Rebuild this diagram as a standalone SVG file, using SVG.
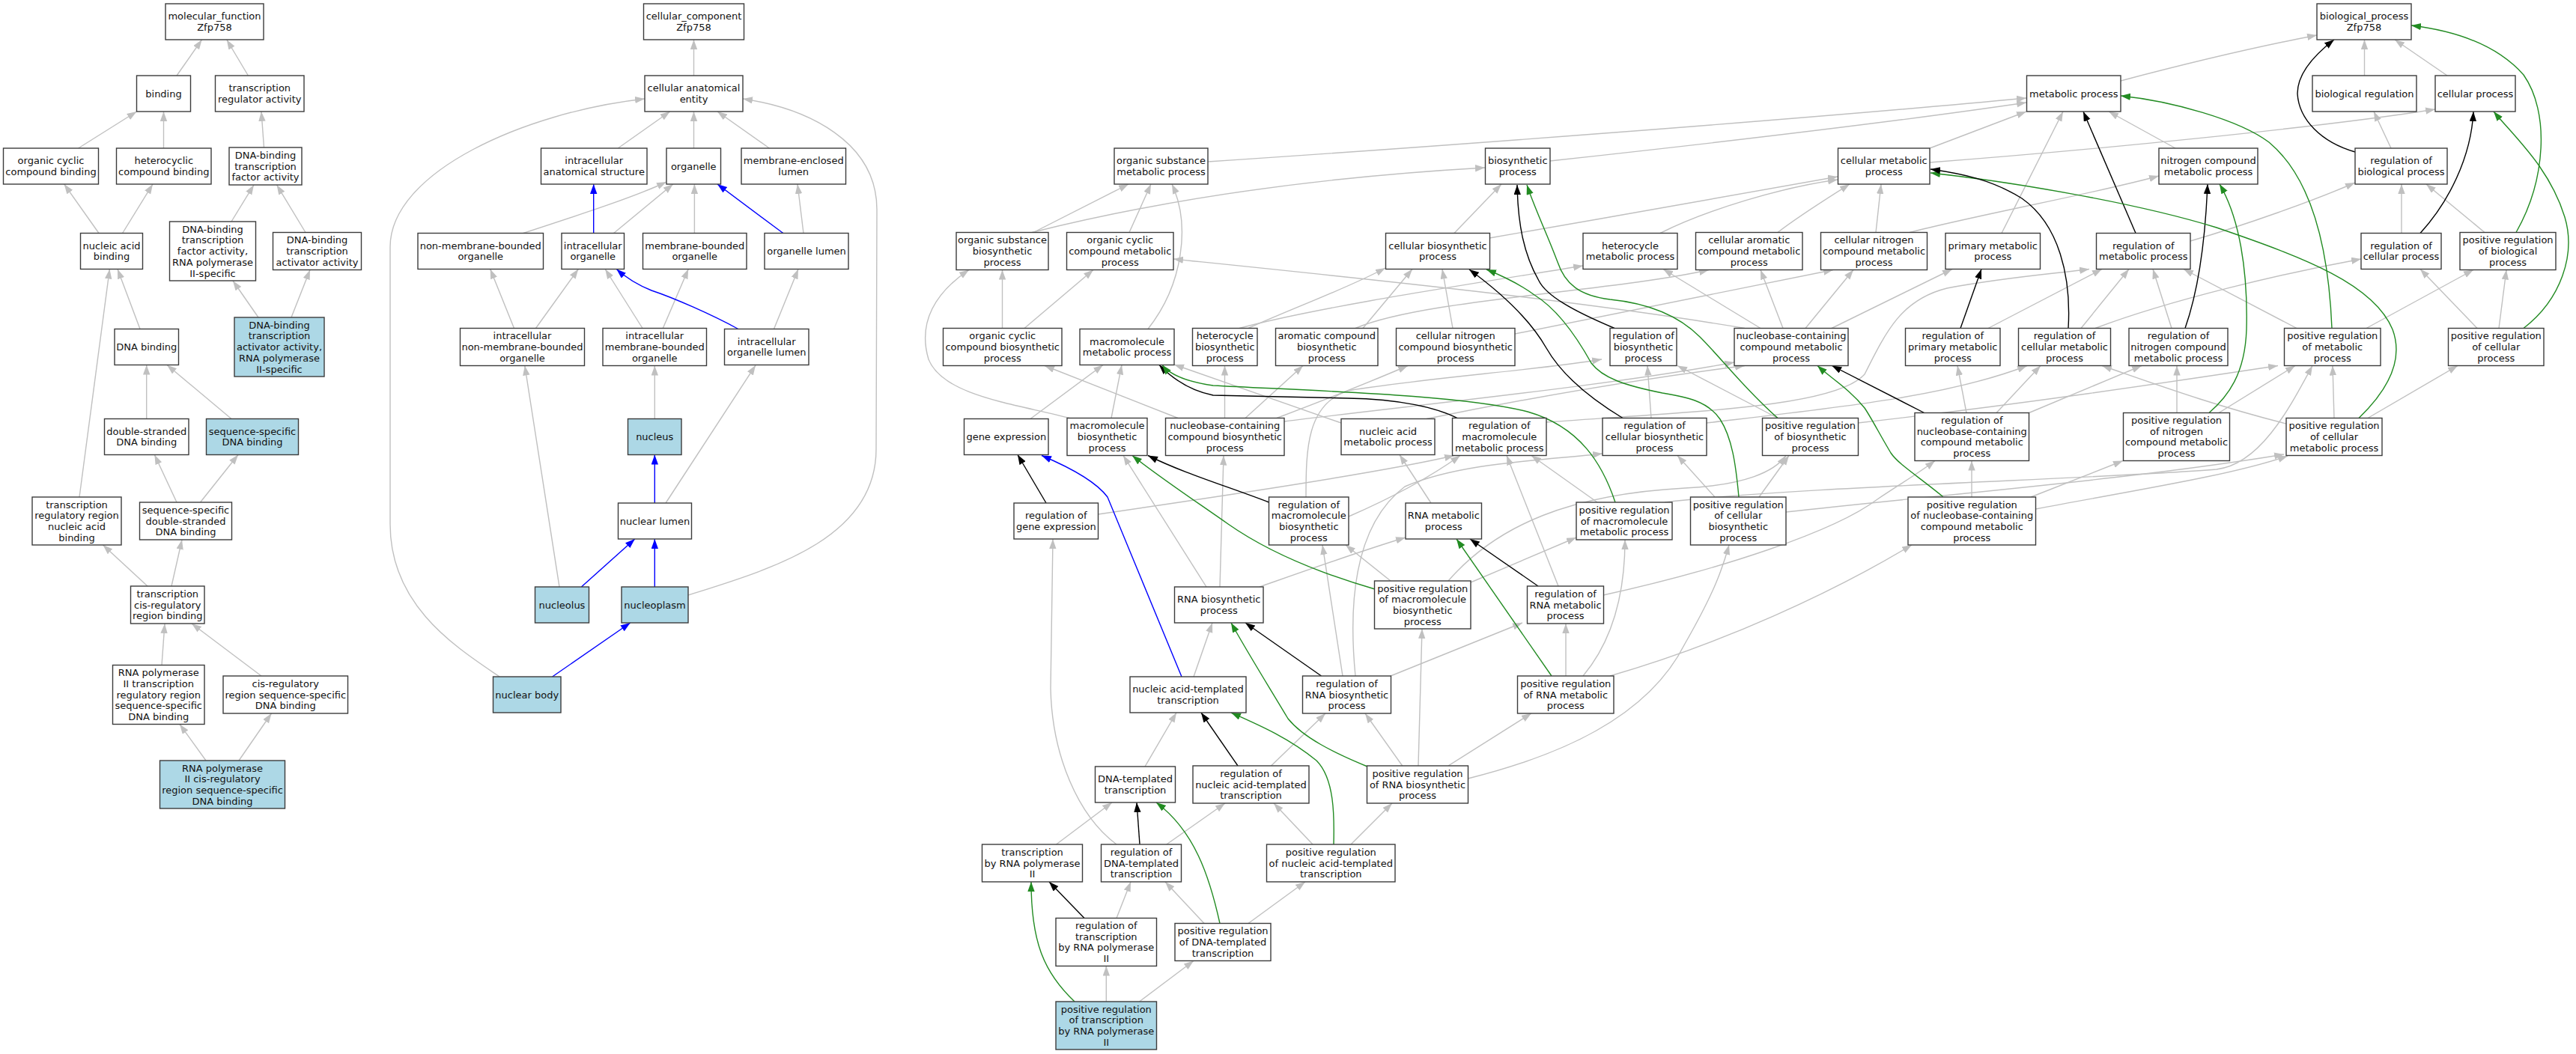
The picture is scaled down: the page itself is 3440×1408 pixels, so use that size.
<svg xmlns="http://www.w3.org/2000/svg" width="3440" height="1408" viewBox="0 0 3440 1408">
<style>
.n rect{fill:#fff;stroke:#3c3c3c;stroke-width:1.4}
.h rect{fill:#add8e6}
.n text{font-family:"DejaVu Sans",Verdana,sans-serif;font-size:13px;text-anchor:middle;fill:#111}
#edges path{fill:none;stroke-width:1.4}
.g{stroke:#c0c0c0;marker-end:url(#ag)}
.k{stroke:#000;marker-end:url(#ak)}
.b{stroke:#0000ff;marker-end:url(#ab)}
.e{stroke:#228b22;marker-end:url(#ae)}
</style>
<defs>
<marker id="ag" markerUnits="userSpaceOnUse" markerWidth="14" markerHeight="10" refX="13" refY="4.7" orient="auto"><path d="M0,0 L13,4.7 L0,9.4 z" fill="#c0c0c0"/></marker>
<marker id="ak" markerUnits="userSpaceOnUse" markerWidth="14" markerHeight="10" refX="13" refY="4.7" orient="auto"><path d="M0,0 L13,4.7 L0,9.4 z" fill="#000"/></marker>
<marker id="ab" markerUnits="userSpaceOnUse" markerWidth="14" markerHeight="10" refX="13" refY="4.7" orient="auto"><path d="M0,0 L13,4.7 L0,9.4 z" fill="#0000ff"/></marker>
<marker id="ae" markerUnits="userSpaceOnUse" markerWidth="14" markerHeight="10" refX="13" refY="4.7" orient="auto"><path d="M0,0 L13,4.7 L0,9.4 z" fill="#228b22"/></marker>
</defs>
<rect width="3440" height="1408" fill="#fff"/>
<g id="edges">
<!-- MF -->
<path class="g" d="M236,101 L269.6,53"/>
<path class="g" d="M331.4,101 L302.8,53"/>
<path class="g" d="M104.6,198 L182.5,149"/>
<path class="g" d="M218.5,198 L218.5,149"/>
<path class="g" d="M352.5,197 L349,149"/>
<path class="g" d="M132,311.5 L85.7,246"/>
<path class="g" d="M163.6,311.5 L204,246"/>
<path class="g" d="M309,296 L339,247"/>
<path class="g" d="M408,310.5 L369.6,247"/>
<path class="g" d="M187,439.5 L157,359.5"/>
<path class="g" d="M345,424 L311,375"/>
<path class="g" d="M389,424 L414,360.5"/>
<path class="g" d="M195.7,559.5 L195.7,487.5"/>
<path class="g" d="M309,559.5 L223,487.5"/>
<path class="g" d="M106,664 L146.4,359.5"/>
<path class="g" d="M236,671 L206.4,607.5"/>
<path class="g" d="M267.5,671 L318,607.5"/>
<path class="g" d="M197,783 L137.5,728"/>
<path class="g" d="M229,783 L243,721"/>
<path class="g" d="M216,888.5 L220,833"/>
<path class="g" d="M349,903 L256,833"/>
<path class="g" d="M275,1016 L240,967.5"/>
<path class="g" d="M319,1016 L362.5,953"/>
<!-- CC -->
<path class="g" d="M926.5,101 L926.5,53"/>
<path class="g" d="M825.3,198 L894.7,149"/>
<path class="g" d="M926.5,198 L926.5,149"/>
<path class="g" d="M1027.4,198 L958,149"/>
<path class="g" d="M698.8,311.5 C780,285 850,262 890,243"/>
<path class="b" d="M792.7,311.5 L792.7,246"/>
<path class="g" d="M819.6,311.5 L898.8,246"/>
<path class="g" d="M927.4,311.5 L927.4,246"/>
<path class="b" d="M1045.8,311.5 L958,246"/>
<path class="g" d="M1073,311.5 L1065,246"/>
<path class="g" d="M686.5,438.5 L654.7,359.5"/>
<path class="g" d="M715.5,438.5 L772.3,359.5"/>
<path class="g" d="M858,438.5 L808.2,359.5"/>
<path class="g" d="M885.3,438.5 L919.2,359.5"/>
<path class="b" d="M985.8,439.5 C950,420 900,398 870,388 C850,380 835,370 823.3,359.5"/>
<path class="g" d="M1033.5,439.5 L1066,359.5"/>
<path class="g" d="M874.3,559.5 L874.3,488.5"/>
<path class="b" d="M874.3,672 L874.3,607.5"/>
<path class="g" d="M889,672 L1009,488"/>
<path class="b" d="M776.4,784 L847.8,720"/>
<path class="b" d="M874.3,784 L874.3,720"/>
<path class="g" d="M747,784 L700.8,488.5"/>
<path class="b" d="M737.6,904 L841.7,832"/>
<path class="g" d="M667,904 C610,865 521,810 521,700 L521,330 C521,230 700,150 861,132"/>
<path class="g" d="M919,795 C1030,760 1170,720 1170,600 L1171,280 C1171,190 1080,145 992,132"/>
<!-- BP grey -->
<path class="g" d="M2832,108 C2900,90 3000,65 3094,47"/>
<path class="g" d="M3157.5,101 L3157.5,53"/>
<path class="g" d="M3268,101 L3198,53"/>
<path class="g" d="M1613,216 C1900,197 2400,160 2706,131"/>
<path class="g" d="M2070,215 C2300,190 2550,160 2706,137"/>
<path class="g" d="M2577,198 L2706,149"/>
<path class="g" d="M2905,198 L2816,149"/>
<path class="g" d="M2673,311.5 L2755,149"/>
<path class="g" d="M2577,217 C2800,200 3100,170 3252,146"/>
<path class="g" d="M3193,198 L3170,149"/>
<path class="g" d="M2925,322 C3000,300 3090,268 3145,244"/>
<path class="g" d="M3207,311.5 L3207,246"/>
<path class="g" d="M3318,310.5 L3240,246"/>
<path class="g" d="M1380,310.5 L1507,246"/>
<path class="g" d="M1378,310.5 C1500,280 1700,240 1983,224"/>
<path class="g" d="M1508,310.5 L1537,246"/>
<path class="g" d="M1942,311.5 L2005,246"/>
<path class="g" d="M1989,318 C2150,290 2350,255 2454,236"/>
<path class="g" d="M2217,311.5 C2280,280 2380,250 2454,240"/>
<path class="g" d="M2374,310.5 C2400,290 2440,265 2470,246"/>
<path class="g" d="M2505,310.5 L2512,246"/>
<path class="g" d="M2550,310.5 C2650,285 2800,258 2883,235"/>
<path class="g" d="M3308,438.5 L3232,359.5"/>
<path class="g" d="M3337,438.5 L3347,360.5"/>
<path class="g" d="M3067,438.5 L2916,359.5"/>
<path class="g" d="M3160,438.5 L3303,360.5"/>
<path class="g" d="M2655,438.5 L2807,359.5"/>
<path class="g" d="M2779,438.5 L2843,359.5"/>
<path class="g" d="M2798,438.5 C2900,400 3050,365 3153,346"/>
<path class="g" d="M2900,438.5 L2875,359.5"/>
<path class="g" d="M2330,438.5 C2100,400 1800,370 1567,346"/>
<path class="g" d="M2351,438.5 L2221,359.5"/>
<path class="g" d="M2381,438.5 L2351,360.5"/>
<path class="g" d="M2411,438.5 L2475,360.5"/>
<path class="g" d="M2446,438.5 L2607,359.5"/>
<path class="g" d="M1338.5,438.5 L1338.5,360.5"/>
<path class="g" d="M1368,438.5 L1460,360.5"/>
<path class="g" d="M1533,439.5 C1580,380 1590,300 1565,246"/>
<path class="g" d="M1667,438.5 C1730,410 1800,385 1850,358"/>
<path class="g" d="M1655,438.5 C1760,410 1960,380 2114,355"/>
<path class="g" d="M1820,438.5 L1886,359.5"/>
<path class="g" d="M1810,438.5 C1900,400 2150,390 2282,360.5"/>
<path class="g" d="M1940,438.5 L1926,359.5"/>
<path class="g" d="M2023,446 C2200,410 2350,380 2448,360.5"/>
<path class="g" d="M1376,559.5 L1473,487.5"/>
<path class="g" d="M1484,558.5 L1498,487.5"/>
<path class="g" d="M1430,559 C1360,540 1260,530 1240,480 C1225,430 1250,390 1294,360.5"/>
<path class="g" d="M1573,558.5 L1395,488.5"/>
<path class="g" d="M1635.5,558.5 L1635.5,488.5"/>
<path class="g" d="M1663,558.5 L1740,488.5"/>
<path class="g" d="M1705,558.5 C1780,530 1830,510 1880,488.5"/>
<path class="g" d="M1715,563 C1900,540 2150,515 2316,484"/>
<path class="g" d="M1791,565 L1568,487"/>
<path class="g" d="M1905,559.5 C2050,530 2200,505 2330,488.5"/>
<path class="g" d="M2065,564 C2250,550 2450,545 2490,500 C2520,440 2540,400 2600,385 C2680,370 2750,365 2790,359.5"/>
<path class="g" d="M2205,558.5 L2200,488.5"/>
<path class="g" d="M2279,565 C2450,545 2600,530 2707,488.5"/>
<path class="g" d="M2374,558.5 L2240,488.5"/>
<path class="g" d="M2481,565 C2700,540 2900,510 3042,488.5"/>
<path class="g" d="M2626,551.5 L2614,488.5"/>
<path class="g" d="M2666,551.5 L2725,488.5"/>
<path class="g" d="M2709.5,551.5 L2860,488.5"/>
<path class="g" d="M2907,551.5 L2907,488.5"/>
<path class="g" d="M2963,551.5 L3065,488.5"/>
<path class="g" d="M3117,558.5 L3115,488.5"/>
<path class="g" d="M3053,566 C2950,540 2870,510 2807,488.5"/>
<path class="g" d="M3162,558.5 L3282,488.5"/>
<path class="g" d="M1466.5,687 C1650,660 1850,630 1942,608.5"/>
<path class="g" d="M1744,664 C1744,600 1745,540 1800,522 C1900,505 2050,495 2139,480"/>
<path class="g" d="M1801,690 C1870,660 1920,630 1950,608.5"/>
<path class="g" d="M1911,672 L1869,607.5"/>
<path class="g" d="M2133,671 L2045,608.5"/>
<path class="g" d="M2223,671 C2400,650 2800,640 2960,627 C3020,620 3060,540 3088,488.5"/>
<path class="g" d="M2290,664 L2240,608.5"/>
<path class="g" d="M2349,664 L2389,608.5"/>
<path class="g" d="M2385,684 C2600,660 2850,640 3050,607"/>
<path class="g" d="M2633,664 L2633,615.5"/>
<path class="g" d="M2712,664 L2835,615.5"/>
<path class="g" d="M2718.5,680 C2850,655 2980,635 3055,609"/>
<path class="g" d="M1611,784 L1500,608.5"/>
<path class="g" d="M1629,784 L1634,608.5"/>
<path class="g" d="M1682,784 C1750,760 1820,735 1877,718"/>
<path class="g" d="M1857,776 L1797,728"/>
<path class="g" d="M1964,778 L2105,718"/>
<path class="g" d="M1934,776 C2000,700 2100,660 2250,652 C2330,648 2370,630 2385,608.5"/>
<path class="g" d="M2081,783 L2012,608.5"/>
<path class="g" d="M2141,795 C2300,760 2450,710 2507,667 C2540,645 2565,630 2584,615.5"/>
<path class="g" d="M1594,904 L1619,832"/>
<path class="g" d="M1793,903 L1766,728"/>
<path class="g" d="M1810,903 C1800,800 1810,700 1876,650 C1950,618 2060,615 2140,606"/>
<path class="g" d="M1857,903 L2033,832"/>
<path class="g" d="M2091,903 L2091,833"/>
<path class="g" d="M2114,903 C2150,860 2170,800 2170,721"/>
<path class="g" d="M2150,903 C2300,860 2450,790 2553,728"/>
<path class="g" d="M1529,1024 L1571,952"/>
<path class="g" d="M1697.5,1023 L1770,953"/>
<path class="g" d="M1872.7,1023 L1823,953"/>
<path class="g" d="M1934,1023 L2045,953"/>
<path class="g" d="M1894,1023 L1899,840"/>
<path class="g" d="M1960.5,1040 C2080,1010 2200,960 2250,860 C2290,790 2300,760 2309,728"/>
<path class="g" d="M1410.5,1128 L1485,1072"/>
<path class="g" d="M1557.8,1128 L1636,1073"/>
<path class="g" d="M1491,1128 C1440,1090 1405,1010 1403,920 L1406,720"/>
<path class="g" d="M1753,1128 L1701,1073"/>
<path class="g" d="M1804,1128 L1859,1073"/>
<path class="g" d="M1491,1226.5 L1510,1178"/>
<path class="g" d="M1608,1233.5 L1556,1178"/>
<path class="g" d="M1667,1233.5 L1743,1178"/>
<path class="g" d="M1477.3,1338 L1477.3,1290.5"/>
<path class="g" d="M1521.5,1338 L1594,1283.5"/>
<!-- BP coloured -->
<path class="k" d="M2852,311.5 L2782,149"/>
<path class="k" d="M3232,311.5 C3270,270 3300,210 3303,149"/>
<path class="e" d="M3360,310.5 C3400,240 3405,150 3370,100 C3330,55 3270,40 3220,34"/>
<path class="k" d="M3145,203 C3100,190 3070,160 3068,125 C3068,95 3095,70 3117,53"/>
<path class="e" d="M3370,438.5 C3420,400 3440,340 3425,290 C3405,225 3360,185 3330,149"/>
<path class="e" d="M3114,438.5 C3110,340 3090,240 3030,190 C2990,160 2900,135 2832,128"/>
<path class="k" d="M2918,438.5 C2935,390 2945,320 2948,246"/>
<path class="e" d="M2950,551.5 C2975,530 2998,500 3000,440 C3002,360 2990,290 2964,246"/>
<path class="e" d="M3150,558.5 C3190,520 3210,480 3195,440 C3170,380 3080,345 2960,304 C2850,270 2680,242 2578,231"/>
<path class="k" d="M2762,438.5 C2766,370 2750,300 2700,265 C2660,240 2620,232 2578,226"/>
<path class="k" d="M2618,438.5 L2646,359.5"/>
<path class="k" d="M1397,672 L1359,607.5"/>
<path class="k" d="M1947,559 C1920,545 1870,533 1800,532 L1620,528 C1590,522 1565,505 1548,487.5"/>
<path class="e" d="M2157,671 C2140,620 2110,570 2040,550 C1950,527 1750,522 1620,515 C1585,510 1562,500 1552,487.5"/>
<path class="k" d="M1694.5,671 C1640,650 1580,632 1533,608.5"/>
<path class="e" d="M1836,787 C1760,765 1690,735 1640,700 C1590,665 1545,635 1512,608.5"/>
<path class="b" d="M1578,904 L1479,664 C1465,645 1430,625 1391,608.5"/>
<path class="k" d="M1764.5,903 L1663,832"/>
<path class="e" d="M1826,1024 C1780,1005 1740,985 1720,960 C1690,910 1665,870 1644,832"/>
<path class="k" d="M1653,1023 L1604,952"/>
<path class="e" d="M1781,1128 C1782,1090 1782,1040 1758,1016 C1720,985 1680,968 1644,952"/>
<path class="k" d="M1522,1128 L1518,1072"/>
<path class="e" d="M1629,1233.5 C1615,1170 1595,1110 1544,1072"/>
<path class="k" d="M1448,1226.5 L1401,1178"/>
<path class="e" d="M1435,1338 C1395,1300 1377,1260 1377,1178"/>
<path class="k" d="M2054,783 L1963,720"/>
<path class="e" d="M2072,903 L1945,720"/>
<path class="k" d="M2156,438.5 C2100,415 2065,395 2055,375 C2035,340 2027,300 2026,247"/>
<path class="e" d="M2374,558.5 C2330,520 2300,480 2270,450 C2240,420 2200,405 2150,400 C2110,395 2090,380 2080,350 C2065,310 2050,280 2039,247"/>
<path class="k" d="M2167,558.5 C2120,530 2085,500 2065,465 C2045,430 2010,395 1962,360"/>
<path class="e" d="M2322,664 C2318,620 2313,585 2297,560 C2280,535 2250,530 2220,525 C2170,515 2140,505 2125,485 C2100,440 2075,410 2049,394 C2030,380 2005,368 1985,360"/>
<path class="k" d="M2569.6,551.5 L2446.4,488.5"/>
<path class="e" d="M2594.6,663.5 C2560,635 2535,620 2525,605 C2510,580 2500,560 2490,545 C2470,520 2445,505 2427,488.5"/>
</g>
<g id="nodes">
<!-- MF -->
<g id="mf_root" class="n"><rect x="221" y="5" width="131" height="48"/><text x="286.5" y="26.25">molecular_function<tspan x="286.5" dy="14.7">Zfp758</tspan></text></g>
<g id="binding" class="n"><rect x="182.5" y="101" width="72" height="48"/><text x="218.5" y="129.6">binding</text></g>
<g id="tra" class="n"><rect x="287.5" y="101" width="118.5" height="48"/><text x="346.75" y="122.25">transcription<tspan x="346.75" dy="14.7">regulator activity</tspan></text></g>
<g id="occb" class="n"><rect x="4.5" y="198" width="127" height="48"/><text x="68" y="219.25">organic cyclic<tspan x="68" dy="14.7">compound binding</tspan></text></g>
<g id="hcb" class="n"><rect x="155.5" y="198" width="126.5" height="48"/><text x="218.75" y="219.25">heterocyclic<tspan x="218.75" dy="14.7">compound binding</tspan></text></g>
<g id="dbtfa" class="n"><rect x="306" y="197" width="97" height="50"/><text x="354.5" y="211.9">DNA-binding<tspan x="354.5" dy="14.7">transcription</tspan><tspan x="354.5" dy="14.7">factor activity</tspan></text></g>
<g id="nab" class="n"><rect x="107.5" y="311.5" width="83" height="48"/><text x="149" y="332.75">nucleic acid<tspan x="149" dy="14.7">binding</tspan></text></g>
<g id="dbtfa2" class="n"><rect x="226.5" y="296" width="115" height="79"/><text x="284" y="310.7">DNA-binding<tspan x="284" dy="14.7">transcription</tspan><tspan x="284" dy="14.7">factor activity,</tspan><tspan x="284" dy="14.7">RNA polymerase</tspan><tspan x="284" dy="14.7">II-specific</tspan></text></g>
<g id="dbtaa" class="n"><rect x="364.5" y="310.5" width="118" height="50"/><text x="423.5" y="325.4">DNA-binding<tspan x="423.5" dy="14.7">transcription</tspan><tspan x="423.5" dy="14.7">activator activity</tspan></text></g>
<g id="dnab" class="n"><rect x="153" y="439.5" width="85.5" height="48"/><text x="195.75" y="468.1">DNA binding</text></g>
<g id="dbtaa2" class="n h"><rect x="313" y="424" width="120" height="79"/><text x="373" y="438.7">DNA-binding<tspan x="373" dy="14.7">transcription</tspan><tspan x="373" dy="14.7">activator activity,</tspan><tspan x="373" dy="14.7">RNA polymerase</tspan><tspan x="373" dy="14.7">II-specific</tspan></text></g>
<g id="dsdb" class="n"><rect x="139.5" y="559.5" width="112.5" height="48"/><text x="195.75" y="580.75">double-stranded<tspan x="195.75" dy="14.7">DNA binding</tspan></text></g>
<g id="ssdb" class="n h"><rect x="275.5" y="559.5" width="123" height="48"/><text x="337" y="580.75">sequence-specific<tspan x="337" dy="14.7">DNA binding</tspan></text></g>
<g id="trrnab" class="n"><rect x="43" y="664" width="119" height="64"/><text x="102.5" y="678.55">transcription<tspan x="102.5" dy="14.7">regulatory region</tspan><tspan x="102.5" dy="14.7">nucleic acid</tspan><tspan x="102.5" dy="14.7">binding</tspan></text></g>
<g id="ssdsdb" class="n"><rect x="186.5" y="671" width="123" height="50"/><text x="248" y="685.9">sequence-specific<tspan x="248" dy="14.7">double-stranded</tspan><tspan x="248" dy="14.7">DNA binding</tspan></text></g>
<g id="tcrrb" class="n"><rect x="174.5" y="783" width="98.5" height="50"/><text x="223.75" y="797.9">transcription<tspan x="223.75" dy="14.7">cis-regulatory</tspan><tspan x="223.75" dy="14.7">region binding</tspan></text></g>
<g id="rnap2trr" class="n"><rect x="150.5" y="888.5" width="122.5" height="79"/><text x="211.75" y="903.2">RNA polymerase<tspan x="211.75" dy="14.7">II transcription</tspan><tspan x="211.75" dy="14.7">regulatory region</tspan><tspan x="211.75" dy="14.7">sequence-specific</tspan><tspan x="211.75" dy="14.7">DNA binding</tspan></text></g>
<g id="crrssdb" class="n"><rect x="298" y="903" width="166.5" height="50"/><text x="381.25" y="917.9">cis-regulatory<tspan x="381.25" dy="14.7">region sequence-specific</tspan><tspan x="381.25" dy="14.7">DNA binding</tspan></text></g>
<g id="rnap2crr" class="n h"><rect x="213.5" y="1016" width="167" height="64"/><text x="297" y="1030.55">RNA polymerase<tspan x="297" dy="14.7">II cis-regulatory</tspan><tspan x="297" dy="14.7">region sequence-specific</tspan><tspan x="297" dy="14.7">DNA binding</tspan></text></g>
<!-- CC -->
<g id="cc_root" class="n"><rect x="859.5" y="5" width="134" height="48"/><text x="926.5" y="26.25">cellular_component<tspan x="926.5" dy="14.7">Zfp758</tspan></text></g>
<g id="cae" class="n"><rect x="861" y="101" width="131" height="48"/><text x="926.5" y="122.25">cellular anatomical<tspan x="926.5" dy="14.7">entity</tspan></text></g>
<g id="ias" class="n"><rect x="722.5" y="198" width="141.5" height="48"/><text x="793.25" y="219.25">intracellular<tspan x="793.25" dy="14.7">anatomical structure</tspan></text></g>
<g id="org" class="n"><rect x="890" y="198" width="72.5" height="48"/><text x="926.25" y="226.6">organelle</text></g>
<g id="mel" class="n"><rect x="990" y="198" width="139.5" height="48"/><text x="1059.75" y="219.25">membrane-enclosed<tspan x="1059.75" dy="14.7">lumen</tspan></text></g>
<g id="nmbo" class="n"><rect x="558" y="311.5" width="167.5" height="48"/><text x="641.75" y="332.75">non-membrane-bounded<tspan x="641.75" dy="14.7">organelle</tspan></text></g>
<g id="io" class="n"><rect x="750" y="311.5" width="83.5" height="48"/><text x="791.75" y="332.75">intracellular<tspan x="791.75" dy="14.7">organelle</tspan></text></g>
<g id="mbo" class="n"><rect x="858.5" y="311.5" width="138.5" height="48"/><text x="927.75" y="332.75">membrane-bounded<tspan x="927.75" dy="14.7">organelle</tspan></text></g>
<g id="ol" class="n"><rect x="1021" y="311.5" width="112" height="48"/><text x="1077" y="340.1">organelle lumen</text></g>
<g id="inmbo" class="n"><rect x="614.5" y="438.5" width="166" height="50"/><text x="697.5" y="453.4">intracellular<tspan x="697.5" dy="14.7">non-membrane-bounded</tspan><tspan x="697.5" dy="14.7">organelle</tspan></text></g>
<g id="imbo" class="n"><rect x="805" y="438.5" width="138.5" height="50"/><text x="874.25" y="453.4">intracellular<tspan x="874.25" dy="14.7">membrane-bounded</tspan><tspan x="874.25" dy="14.7">organelle</tspan></text></g>
<g id="iol" class="n"><rect x="967.5" y="439.5" width="112.5" height="48"/><text x="1023.75" y="460.75">intracellular<tspan x="1023.75" dy="14.7">organelle lumen</tspan></text></g>
<g id="nuc" class="n h"><rect x="838.5" y="559.5" width="71.5" height="48"/><text x="874.25" y="588.1">nucleus</text></g>
<g id="nl" class="n"><rect x="825.5" y="672" width="98" height="48"/><text x="874.5" y="700.6">nuclear lumen</text></g>
<g id="nucl" class="n h"><rect x="714.5" y="784" width="72" height="48"/><text x="750.5" y="812.6">nucleolus</text></g>
<g id="np" class="n h"><rect x="830" y="784" width="89" height="48"/><text x="874.5" y="812.6">nucleoplasm</text></g>
<g id="nb" class="n h"><rect x="658.5" y="904" width="90.5" height="48"/><text x="703.75" y="932.6">nuclear body</text></g>
<!-- BP -->
<g id="bp_root" class="n"><rect x="3094" y="5" width="126" height="48"/><text x="3157" y="26.25">biological_process<tspan x="3157" dy="14.7">Zfp758</tspan></text></g>
<g id="mp" class="n"><rect x="2706.5" y="101" width="125.5" height="48"/><text x="2769.25" y="129.6">metabolic process</text></g>
<g id="br" class="n"><rect x="3088" y="101" width="139" height="48"/><text x="3157.5" y="129.6">biological regulation</text></g>
<g id="cp" class="n"><rect x="3252" y="101" width="107" height="48"/><text x="3305.5" y="129.6">cellular process</text></g>
<g id="osmp" class="n"><rect x="1488" y="198" width="125" height="48"/><text x="1550.5" y="219.25">organic substance<tspan x="1550.5" dy="14.7">metabolic process</tspan></text></g>
<g id="bsp" class="n"><rect x="1983.5" y="198" width="86.5" height="48"/><text x="2026.75" y="219.25">biosynthetic<tspan x="2026.75" dy="14.7">process</tspan></text></g>
<g id="cmp" class="n"><rect x="2454.5" y="198" width="122.5" height="48"/><text x="2515.75" y="219.25">cellular metabolic<tspan x="2515.75" dy="14.7">process</tspan></text></g>
<g id="ncmp" class="n"><rect x="2883" y="198" width="132" height="48"/><text x="2949" y="219.25">nitrogen compound<tspan x="2949" dy="14.7">metabolic process</tspan></text></g>
<g id="rbp" class="n"><rect x="3145" y="198" width="123" height="48"/><text x="3206.5" y="219.25">regulation of<tspan x="3206.5" dy="14.7">biological process</tspan></text></g>
<g id="osbp" class="n"><rect x="1277" y="310.5" width="123" height="50"/><text x="1338.5" y="325.4">organic substance<tspan x="1338.5" dy="14.7">biosynthetic</tspan><tspan x="1338.5" dy="14.7">process</tspan></text></g>
<g id="occmp" class="n"><rect x="1424.5" y="310.5" width="142.5" height="50"/><text x="1495.75" y="325.4">organic cyclic<tspan x="1495.75" dy="14.7">compound metabolic</tspan><tspan x="1495.75" dy="14.7">process</tspan></text></g>
<g id="cbp" class="n"><rect x="1850.5" y="311.5" width="139" height="48"/><text x="1920" y="332.75">cellular biosynthetic<tspan x="1920" dy="14.7">process</tspan></text></g>
<g id="hmp" class="n"><rect x="2114" y="311.5" width="126" height="48"/><text x="2177" y="332.75">heterocycle<tspan x="2177" dy="14.7">metabolic process</tspan></text></g>
<g id="cacmp" class="n"><rect x="2264.5" y="310.5" width="142.5" height="50"/><text x="2335.75" y="325.4">cellular aromatic<tspan x="2335.75" dy="14.7">compound metabolic</tspan><tspan x="2335.75" dy="14.7">process</tspan></text></g>
<g id="cncmp" class="n"><rect x="2431.5" y="310.5" width="142" height="50"/><text x="2502.5" y="325.4">cellular nitrogen<tspan x="2502.5" dy="14.7">compound metabolic</tspan><tspan x="2502.5" dy="14.7">process</tspan></text></g>
<g id="pmp" class="n"><rect x="2598" y="311.5" width="126.5" height="48"/><text x="2661.25" y="332.75">primary metabolic<tspan x="2661.25" dy="14.7">process</tspan></text></g>
<g id="rmp" class="n"><rect x="2799.5" y="311.5" width="125.5" height="48"/><text x="2862.25" y="332.75">regulation of<tspan x="2862.25" dy="14.7">metabolic process</tspan></text></g>
<g id="rcp" class="n"><rect x="3153" y="311.5" width="107" height="48"/><text x="3206.5" y="332.75">regulation of<tspan x="3206.5" dy="14.7">cellular process</tspan></text></g>
<g id="prbp" class="n"><rect x="3285" y="310.5" width="128" height="50"/><text x="3349" y="325.4">positive regulation<tspan x="3349" dy="14.7">of biological</tspan><tspan x="3349" dy="14.7">process</tspan></text></g>
<g id="occbp" class="n"><rect x="1259.5" y="438.5" width="158.5" height="50"/><text x="1338.75" y="453.4">organic cyclic<tspan x="1338.75" dy="14.7">compound biosynthetic</tspan><tspan x="1338.75" dy="14.7">process</tspan></text></g>
<g id="mmp" class="n"><rect x="1442" y="439.5" width="126" height="48"/><text x="1505" y="460.75">macromolecule<tspan x="1505" dy="14.7">metabolic process</tspan></text></g>
<g id="hbp" class="n"><rect x="1592.5" y="438.5" width="86.5" height="50"/><text x="1635.75" y="453.4">heterocycle<tspan x="1635.75" dy="14.7">biosynthetic</tspan><tspan x="1635.75" dy="14.7">process</tspan></text></g>
<g id="acbp" class="n"><rect x="1703.5" y="438.5" width="136.5" height="50"/><text x="1771.75" y="453.4">aromatic compound<tspan x="1771.75" dy="14.7">biosynthetic</tspan><tspan x="1771.75" dy="14.7">process</tspan></text></g>
<g id="cncbp" class="n"><rect x="1864.5" y="438.5" width="158.5" height="50"/><text x="1943.75" y="453.4">cellular nitrogen<tspan x="1943.75" dy="14.7">compound biosynthetic</tspan><tspan x="1943.75" dy="14.7">process</tspan></text></g>
<g id="rbsp" class="n"><rect x="2150" y="438.5" width="89" height="50"/><text x="2194.5" y="453.4">regulation of<tspan x="2194.5" dy="14.7">biosynthetic</tspan><tspan x="2194.5" dy="14.7">process</tspan></text></g>
<g id="nccmp" class="n"><rect x="2316" y="438.5" width="152" height="50"/><text x="2392" y="453.4">nucleobase-containing<tspan x="2392" dy="14.7">compound metabolic</tspan><tspan x="2392" dy="14.7">process</tspan></text></g>
<g id="rpmp" class="n"><rect x="2544.5" y="438.5" width="126.5" height="50"/><text x="2607.75" y="453.4">regulation of<tspan x="2607.75" dy="14.7">primary metabolic</tspan><tspan x="2607.75" dy="14.7">process</tspan></text></g>
<g id="rcmp" class="n"><rect x="2695.5" y="438.5" width="123" height="50"/><text x="2757" y="453.4">regulation of<tspan x="2757" dy="14.7">cellular metabolic</tspan><tspan x="2757" dy="14.7">process</tspan></text></g>
<g id="rncmp" class="n"><rect x="2843" y="438.5" width="132" height="50"/><text x="2909" y="453.4">regulation of<tspan x="2909" dy="14.7">nitrogen compound</tspan><tspan x="2909" dy="14.7">metabolic process</tspan></text></g>
<g id="prmp" class="n"><rect x="3050.5" y="438.5" width="128.5" height="50"/><text x="3114.75" y="453.4">positive regulation<tspan x="3114.75" dy="14.7">of metabolic</tspan><tspan x="3114.75" dy="14.7">process</tspan></text></g>
<g id="prcp" class="n"><rect x="3269.5" y="438.5" width="127.5" height="50"/><text x="3333.25" y="453.4">positive regulation<tspan x="3333.25" dy="14.7">of cellular</tspan><tspan x="3333.25" dy="14.7">process</tspan></text></g>
<g id="ge" class="n"><rect x="1287.5" y="559.5" width="112.5" height="48"/><text x="1343.75" y="588.1">gene expression</text></g>
<g id="mbp" class="n"><rect x="1425" y="558.5" width="107" height="50"/><text x="1478.5" y="573.4">macromolecule<tspan x="1478.5" dy="14.7">biosynthetic</tspan><tspan x="1478.5" dy="14.7">process</tspan></text></g>
<g id="nccbp" class="n"><rect x="1556.5" y="558.5" width="158.5" height="50"/><text x="1635.75" y="573.4">nucleobase-containing<tspan x="1635.75" dy="14.7">compound biosynthetic</tspan><tspan x="1635.75" dy="14.7">process</tspan></text></g>
<g id="namp" class="n"><rect x="1791" y="559.5" width="125" height="48"/><text x="1853.5" y="580.75">nucleic acid<tspan x="1853.5" dy="14.7">metabolic process</tspan></text></g>
<g id="rmmp" class="n"><rect x="1939.5" y="558.5" width="125.5" height="50"/><text x="2002.25" y="573.4">regulation of<tspan x="2002.25" dy="14.7">macromolecule</tspan><tspan x="2002.25" dy="14.7">metabolic process</tspan></text></g>
<g id="rcbp" class="n"><rect x="2140" y="558.5" width="139" height="50"/><text x="2209.5" y="573.4">regulation of<tspan x="2209.5" dy="14.7">cellular biosynthetic</tspan><tspan x="2209.5" dy="14.7">process</tspan></text></g>
<g id="prbsp" class="n"><rect x="2353.5" y="558.5" width="128" height="50"/><text x="2417.5" y="573.4">positive regulation<tspan x="2417.5" dy="14.7">of biosynthetic</tspan><tspan x="2417.5" dy="14.7">process</tspan></text></g>
<g id="rnccmp" class="n"><rect x="2557" y="551.5" width="152.5" height="64"/><text x="2633.25" y="566.05">regulation of<tspan x="2633.25" dy="14.7">nucleobase-containing</tspan><tspan x="2633.25" dy="14.7">compound metabolic</tspan><tspan x="2633.25" dy="14.7">process</tspan></text></g>
<g id="prncmp" class="n"><rect x="2835.5" y="551.5" width="142" height="64"/><text x="2906.5" y="566.05">positive regulation<tspan x="2906.5" dy="14.7">of nitrogen</tspan><tspan x="2906.5" dy="14.7">compound metabolic</tspan><tspan x="2906.5" dy="14.7">process</tspan></text></g>
<g id="prcmp" class="n"><rect x="3053" y="558.5" width="128" height="50"/><text x="3117" y="573.4">positive regulation<tspan x="3117" dy="14.7">of cellular</tspan><tspan x="3117" dy="14.7">metabolic process</tspan></text></g>
<g id="rge" class="n"><rect x="1354" y="672" width="112.5" height="48"/><text x="1410.25" y="693.25">regulation of<tspan x="1410.25" dy="14.7">gene expression</tspan></text></g>
<g id="rmbp" class="n"><rect x="1694.5" y="664" width="106.5" height="64"/><text x="1747.75" y="678.55">regulation of<tspan x="1747.75" dy="14.7">macromolecule</tspan><tspan x="1747.75" dy="14.7">biosynthetic</tspan><tspan x="1747.75" dy="14.7">process</tspan></text></g>
<g id="rnamp" class="n"><rect x="1877" y="672" width="101.5" height="48"/><text x="1927.75" y="693.25">RNA metabolic<tspan x="1927.75" dy="14.7">process</tspan></text></g>
<g id="prmmp" class="n"><rect x="2105" y="671" width="128" height="50"/><text x="2169" y="685.9">positive regulation<tspan x="2169" dy="14.7">of macromolecule</tspan><tspan x="2169" dy="14.7">metabolic process</tspan></text></g>
<g id="prcbp" class="n"><rect x="2257.5" y="664" width="127.5" height="64"/><text x="2321.25" y="678.55">positive regulation<tspan x="2321.25" dy="14.7">of cellular</tspan><tspan x="2321.25" dy="14.7">biosynthetic</tspan><tspan x="2321.25" dy="14.7">process</tspan></text></g>
<g id="prnccmp" class="n"><rect x="2548" y="664" width="170.5" height="64"/><text x="2633.25" y="678.55">positive regulation<tspan x="2633.25" dy="14.7">of nucleobase-containing</tspan><tspan x="2633.25" dy="14.7">compound metabolic</tspan><tspan x="2633.25" dy="14.7">process</tspan></text></g>
<g id="rnabp" class="n"><rect x="1568.5" y="784" width="118.5" height="48"/><text x="1627.75" y="805.25">RNA biosynthetic<tspan x="1627.75" dy="14.7">process</tspan></text></g>
<g id="prmbp" class="n"><rect x="1835.5" y="776" width="128.5" height="64"/><text x="1899.75" y="790.55">positive regulation<tspan x="1899.75" dy="14.7">of macromolecule</tspan><tspan x="1899.75" dy="14.7">biosynthetic</tspan><tspan x="1899.75" dy="14.7">process</tspan></text></g>
<g id="rrnamp" class="n"><rect x="2039.5" y="783" width="102" height="50"/><text x="2090.5" y="797.9">regulation of<tspan x="2090.5" dy="14.7">RNA metabolic</tspan><tspan x="2090.5" dy="14.7">process</tspan></text></g>
<g id="natt" class="n"><rect x="1509" y="904" width="155" height="48"/><text x="1586.5" y="925.25">nucleic acid-templated<tspan x="1586.5" dy="14.7">transcription</tspan></text></g>
<g id="rrnabp" class="n"><rect x="1739.5" y="903" width="118" height="50"/><text x="1798.5" y="917.9">regulation of<tspan x="1798.5" dy="14.7">RNA biosynthetic</tspan><tspan x="1798.5" dy="14.7">process</tspan></text></g>
<g id="prrnamp" class="n"><rect x="2026.5" y="903" width="128.5" height="50"/><text x="2090.75" y="917.9">positive regulation<tspan x="2090.75" dy="14.7">of RNA metabolic</tspan><tspan x="2090.75" dy="14.7">process</tspan></text></g>
<g id="dtt" class="n"><rect x="1462.5" y="1024" width="107" height="48"/><text x="1516" y="1045.25">DNA-templated<tspan x="1516" dy="14.7">transcription</tspan></text></g>
<g id="rnatt" class="n"><rect x="1593" y="1023" width="155" height="50"/><text x="1670.5" y="1037.9">regulation of<tspan x="1670.5" dy="14.7">nucleic acid-templated</tspan><tspan x="1670.5" dy="14.7">transcription</tspan></text></g>
<g id="prrnabp" class="n"><rect x="1825.5" y="1023" width="135" height="50"/><text x="1893" y="1037.9">positive regulation<tspan x="1893" dy="14.7">of RNA biosynthetic</tspan><tspan x="1893" dy="14.7">process</tspan></text></g>
<g id="trnap2" class="n"><rect x="1311.5" y="1128" width="134" height="50"/><text x="1378.5" y="1142.9">transcription<tspan x="1378.5" dy="14.7">by RNA polymerase</tspan><tspan x="1378.5" dy="14.7">II</tspan></text></g>
<g id="rdtt" class="n"><rect x="1470.5" y="1128" width="107" height="50"/><text x="1524" y="1142.9">regulation of<tspan x="1524" dy="14.7">DNA-templated</tspan><tspan x="1524" dy="14.7">transcription</tspan></text></g>
<g id="prnatt" class="n"><rect x="1691.5" y="1128" width="171.5" height="50"/><text x="1777.25" y="1142.9">positive regulation<tspan x="1777.25" dy="14.7">of nucleic acid-templated</tspan><tspan x="1777.25" dy="14.7">transcription</tspan></text></g>
<g id="rtrnap2" class="n"><rect x="1410" y="1226.5" width="134.5" height="64"/><text x="1477.25" y="1241.05">regulation of<tspan x="1477.25" dy="14.7">transcription</tspan><tspan x="1477.25" dy="14.7">by RNA polymerase</tspan><tspan x="1477.25" dy="14.7">II</tspan></text></g>
<g id="prdtt" class="n"><rect x="1569" y="1233.5" width="128" height="50"/><text x="1633" y="1248.4">positive regulation<tspan x="1633" dy="14.7">of DNA-templated</tspan><tspan x="1633" dy="14.7">transcription</tspan></text></g>
<g id="prtrnap2" class="n h"><rect x="1410" y="1338" width="134.5" height="64"/><text x="1477.25" y="1352.55">positive regulation<tspan x="1477.25" dy="14.7">of transcription</tspan><tspan x="1477.25" dy="14.7">by RNA polymerase</tspan><tspan x="1477.25" dy="14.7">II</tspan></text></g>
</g>
</svg>
